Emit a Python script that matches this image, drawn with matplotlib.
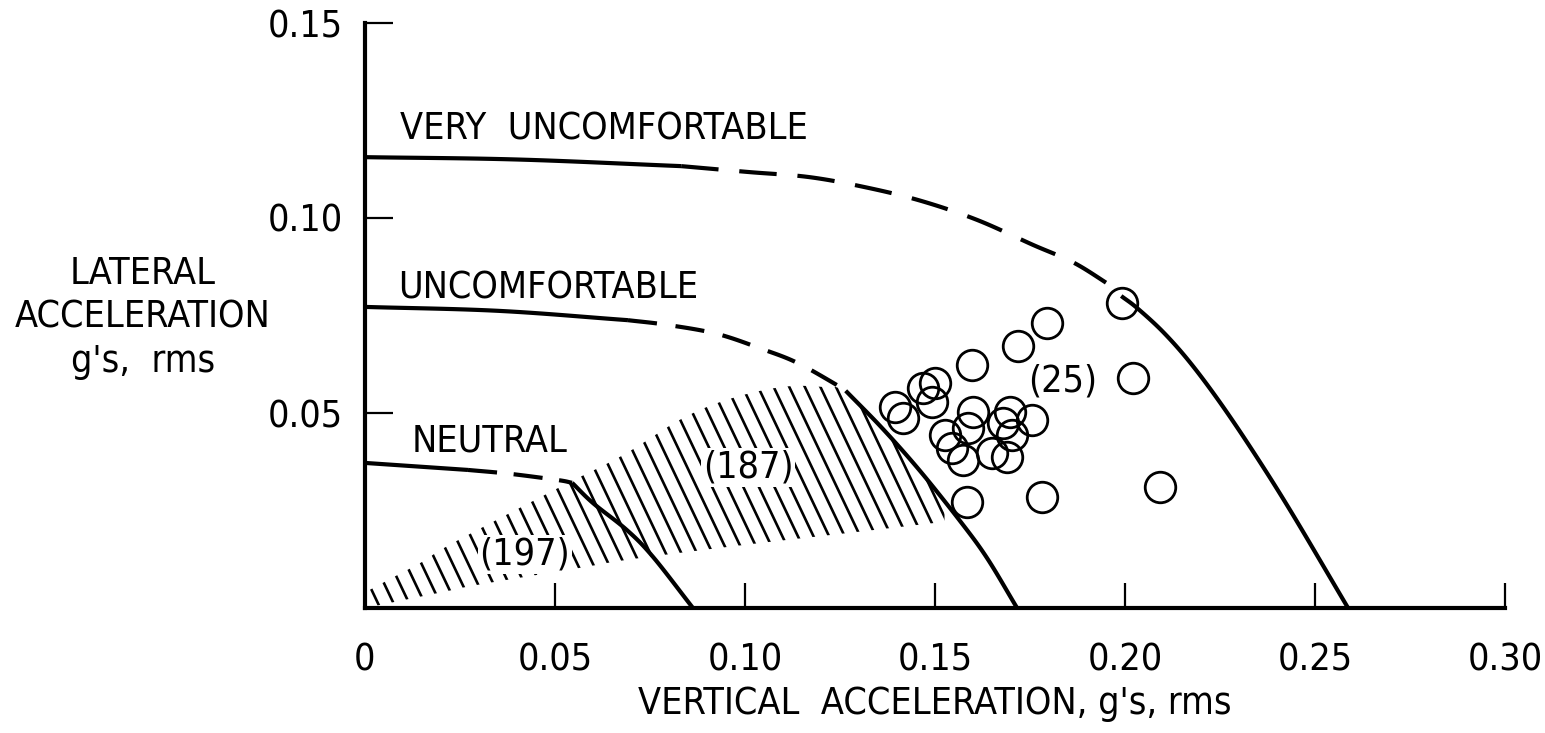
import numpy as np
import matplotlib
matplotlib.use("Agg")
import matplotlib.pyplot as plt

plt.rcParams['font.family'] = ['DejaVu Sans']
plt.rcParams['font.stretch'] = 'condensed'

# ride comfort boundaries (solid / dashed / solid pieces)
very_x1 = [0.0, 0.04, 0.0832]
very_y1 = [0.1156, 0.1150, 0.1133]
very_xd = [0.0832, 0.1008, 0.1168, 0.1316, 0.1463, 0.1611, 0.1758, 0.1866, 0.1968]
very_yd = [0.1133, 0.1118, 0.1105, 0.1079, 0.1044, 0.0995, 0.0931, 0.0885, 0.0823]
very_x2 = [0.1990, 0.2032, 0.2100, 0.2170, 0.2250, 0.2340, 0.2440, 0.2587]
very_y2 = [0.0800, 0.0769, 0.0708, 0.0631, 0.0527, 0.0397, 0.0242, 0.0]

unc_x1 = [0.0, 0.035, 0.0692]
unc_y1 = [0.0772, 0.0762, 0.0738]
unc_xd = [0.0692, 0.0795, 0.0926, 0.1045, 0.1139, 0.1250, 0.1265]
unc_yd = [0.0738, 0.0726, 0.0703, 0.0664, 0.0628, 0.0567, 0.0557]
unc_x2 = [0.1265, 0.1363, 0.1461, 0.1566, 0.1637, 0.1716]
unc_y2 = [0.0557, 0.0459, 0.0351, 0.0223, 0.0128, 0.0]

neu_x1 = [0.0, 0.0271]
neu_y1 = [0.0372, 0.0354]
neu_xd = [0.0271, 0.0382, 0.0508, 0.0545]
neu_yd = [0.0354, 0.0344, 0.0328, 0.0321]
neu_x2 = [0.0545, 0.0600, 0.0689, 0.0758, 0.0863]
neu_y2 = [0.0321, 0.0269, 0.0200, 0.0131, 0.0]

# hatched band (upper and lower edges)
band_up_x = [0.0, 0.0071, 0.0150, 0.0232, 0.0513, 0.0679, 0.0837, 0.0966, 0.1100,
             0.1203, 0.1263, 0.1363, 0.1461, 0.1525]
band_up_y = [0.0040, 0.0077, 0.0118, 0.0167, 0.0310, 0.0392, 0.0487, 0.0538, 0.0567,
             0.0567, 0.0555, 0.0457, 0.0349, 0.0270]
band_lo_x = [0.0, 0.0200, 0.0300, 0.0566, 0.0700, 0.1000, 0.1250, 0.1525]
band_lo_y = [0.0, 0.0040, 0.0060, 0.0103, 0.0125, 0.0162, 0.0190, 0.0221]

# test points
pts_x = [0.1992, 0.1795, 0.1718, 0.1597, 0.2021, 0.1395, 0.1416, 0.1468, 0.1500,
         0.1492, 0.1600, 0.1587, 0.1526, 0.1545, 0.1574, 0.1650, 0.1689, 0.1697,
         0.1679, 0.1703, 0.1755, 0.1584, 0.1782, 0.2092]
pts_y = [0.0782, 0.0731, 0.0672, 0.0623, 0.0590, 0.0515, 0.0487, 0.0564, 0.0577,
         0.0528, 0.0503, 0.0462, 0.0444, 0.0410, 0.0379, 0.0397, 0.0387, 0.0503,
         0.0474, 0.0444, 0.0482, 0.0272, 0.0285, 0.0310]

xticks = [0, 0.05, 0.10, 0.15, 0.20, 0.25, 0.30]
xlabels = ['0', '0.05', '0.10', '0.15', '0.20', '0.25', '0.30']
yticks = [0.05, 0.10, 0.15]
ylabels = ['0.05', '0.10', '0.15']


def smooth(xs, ys, n=12):
    # Catmull-Rom through the read points
    p = np.column_stack([xs, ys])
    if len(p) < 3:
        return p[:, 0], p[:, 1]
    p = np.vstack([2 * p[0] - p[1], p, 2 * p[-1] - p[-2]])
    out = []
    t = np.linspace(0, 1, n, endpoint=False)[:, None]
    for i in range(1, len(p) - 2):
        p0, p1, p2, p3 = p[i - 1], p[i], p[i + 1], p[i + 2]
        seg = 0.5 * ((2 * p1) + (-p0 + p2) * t + (2 * p0 - 5 * p1 + 4 * p2 - p3) * t ** 2
                     + (-p0 + 3 * p1 - 3 * p2 + p3) * t ** 3)
        out.append(seg)
    out.append(p[-2][None, :])
    out = np.vstack(out)
    return out[:, 0], out[:, 1]


fig = plt.figure(figsize=(15.45, 7.33), dpi=100)
ax = fig.add_axes([365 / 1545, 1 - 608 / 733, 1140 / 1545, 585 / 733])

lw = 3.0
for xs, ys in [(very_x1, very_y1), (very_x2, very_y2), (unc_x1, unc_y1),
               (unc_x2, unc_y2), (neu_x1, neu_y1), (neu_x2, neu_y2)]:
    ax.plot(*smooth(xs, ys), color='black', lw=lw, solid_capstyle='butt')
ax.plot(*smooth(very_xd, very_yd), color='black', lw=lw, linestyle=(0, (9, 5)))
ax.plot(*smooth(unc_xd, unc_yd), color='black', lw=lw, linestyle=(0, (7, 4.5)))
ax.plot(*smooth(neu_xd, neu_yd), color='black', lw=lw, linestyle=(0, (7, 4)))

# hatch band: steep backslash lines clipped to the band
bx_up, by_up = smooth(band_up_x, band_up_y)
bx_lo, by_lo = smooth(band_lo_x, band_lo_y)
poly_x = np.concatenate([bx_up, bx_lo[::-1]])
poly_y = np.concatenate([by_up, by_lo[::-1]])
band = ax.fill(poly_x, poly_y, facecolor='none', edgecolor='none')[0]
slope = 2.05
for x0 in np.arange(0.004, 0.20, 0.0041):
    line, = ax.plot([x0 - 0.08 / slope, x0], [0.08, 0.0], color='black', lw=1.9)
    line.set_clip_path(band)

ax.plot(pts_x, pts_y, 'o', markersize=22, markerfacecolor='none',
        markeredgecolor='black', markeredgewidth=2.0)

fs = 27
ax.text(0.0092, 0.1226, 'VERY  UNCOMFORTABLE', fontsize=fs, va='center', ha='left')
ax.text(0.0087, 0.0820, 'UNCOMFORTABLE', fontsize=fs, va='center', ha='left')
ax.text(0.0124, 0.0426, 'NEUTRAL', fontsize=fs, va='center', ha='left')
bb = dict(facecolor='white', edgecolor='none', pad=1)
ax.text(0.1008, 0.0359, '(187)', fontsize=fs, va='center', ha='center', bbox=bb)
ax.text(0.0421, 0.0138, '(197)', fontsize=fs, va='center', ha='center', bbox=bb)
ax.text(0.1837, 0.0580, '(25)', fontsize=fs, va='center', ha='center')

ax.set_xlim(0, 0.30)
ax.set_ylim(0, 0.15)
ax.set_xticks(xticks)
ax.set_xticklabels(xlabels)
ax.set_yticks(yticks)
ax.set_yticklabels(ylabels)
ax.tick_params(axis='x', direction='in', length=18, width=1.6, pad=25, labelsize=fs)
ax.tick_params(axis='y', direction='in', length=20, width=1.6, pad=16, labelsize=fs)
for side in ['top', 'right']:
    ax.spines[side].set_visible(False)
for side in ['left', 'bottom']:
    ax.spines[side].set_linewidth(3.0)

ax.set_xlabel("VERTICAL  ACCELERATION, g's, rms", fontsize=fs, labelpad=5)
fig.text(143 / 1545, 1 - 318 / 733, "LATERAL\nACCELERATION\ng's,  rms",
         fontsize=fs, ha='center', va='center', linespacing=1.3)

fig.savefig('out.png', dpi=100)
